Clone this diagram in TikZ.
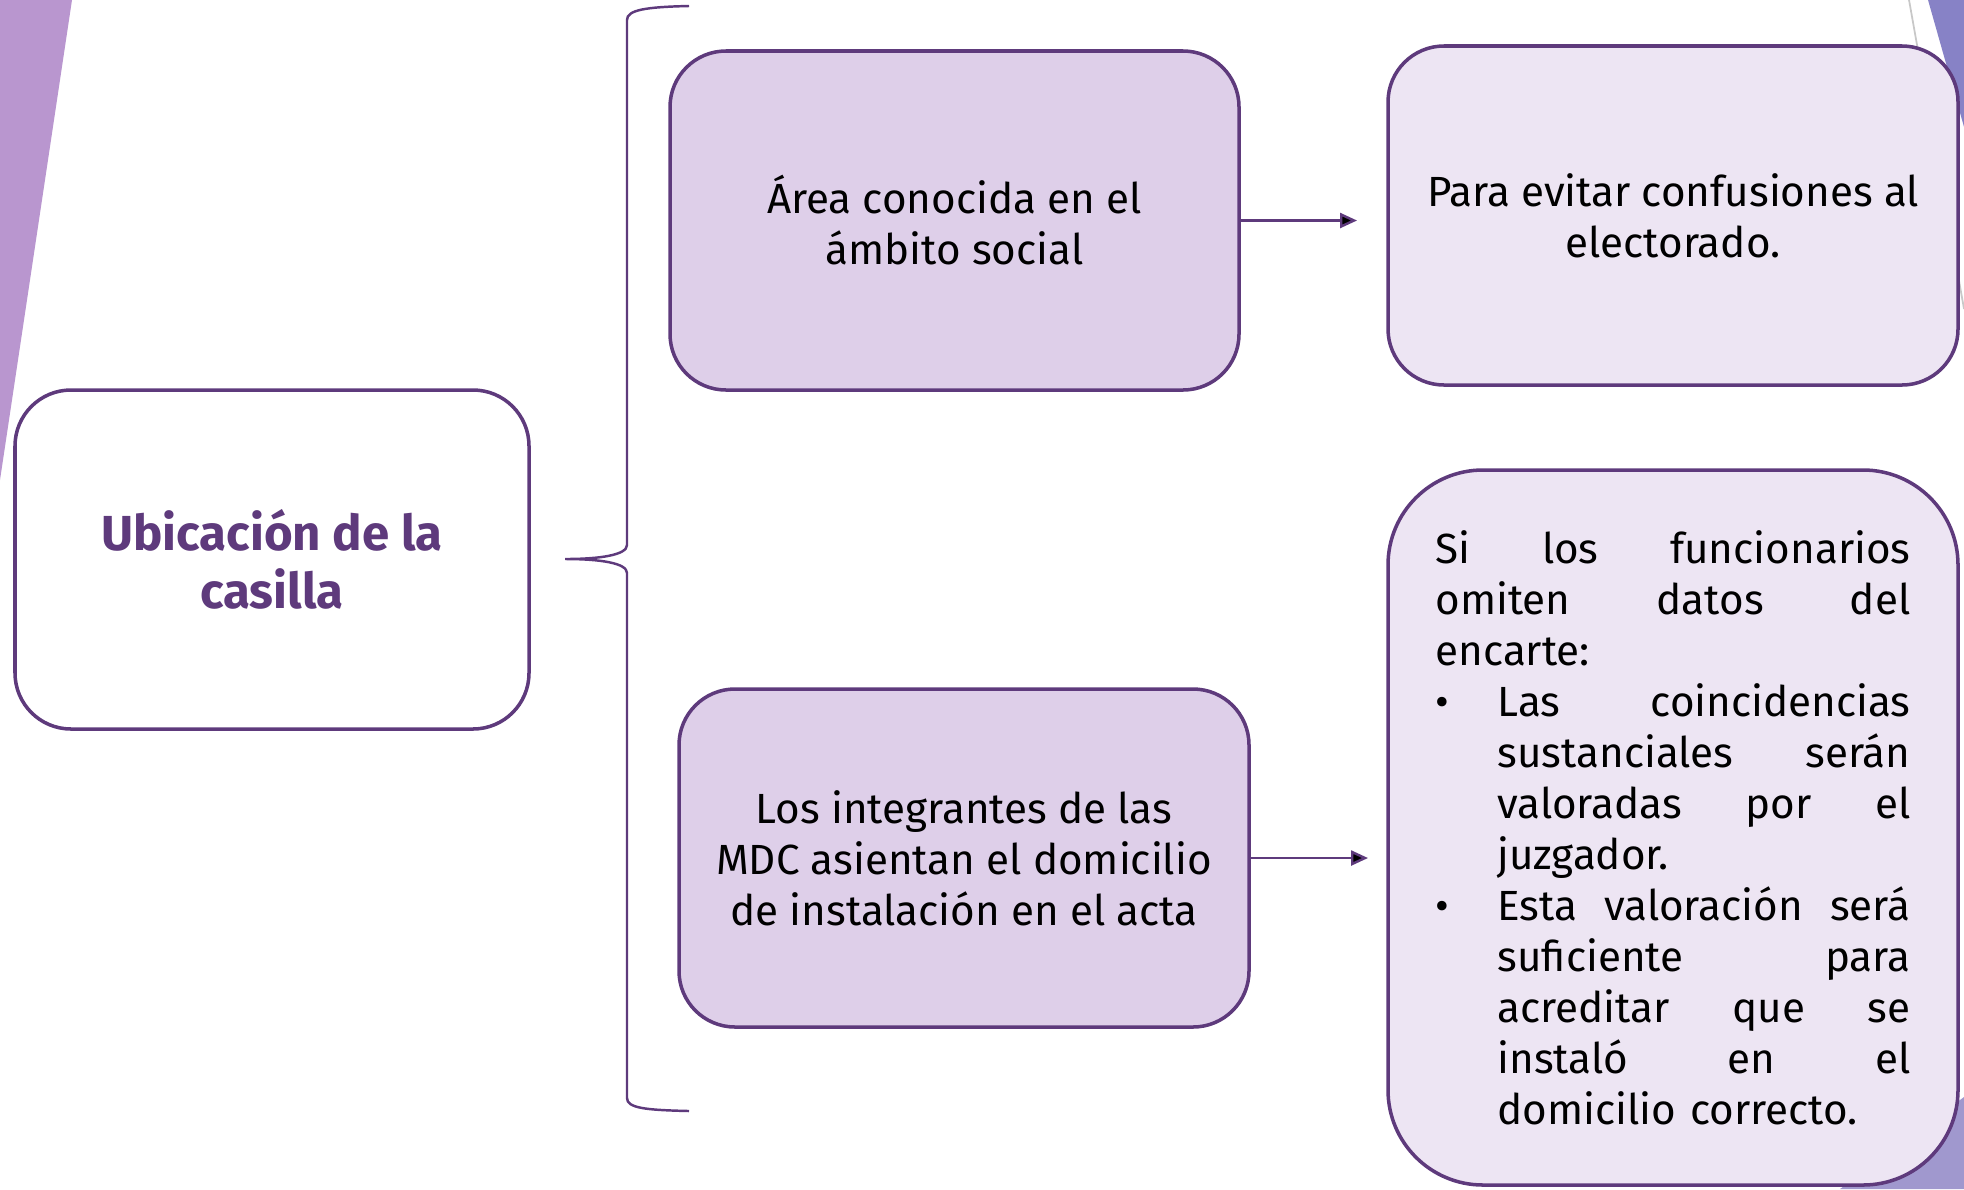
\documentclass[tikz,border=0pt]{standalone}
\usepackage{fontspec}
\setmainfont{Fira Sans}
\usetikzlibrary{arrows.meta}
\definecolor{casillaPurple}{RGB}{94,58,124}
\definecolor{casillaLilac}{RGB}{222,207,233}
\definecolor{casillaPale}{RGB}{237,229,243}
\definecolor{casillaWedge}{RGB}{185,150,207}
\definecolor{casillaBlue}{RGB}{135,130,198}
\definecolor{casillaCorner}{RGB}{160,152,206}
\definecolor{casillaGrey}{RGB}{200,200,200}
\newcommand{\jline}[2]{\makebox[#1][s]{#2}}
\newcommand{\bul}{\makebox[0.62cm][l]{\textbullet}}
\newcommand{\ind}{\hspace*{0.62cm}}

\begin{document}
\begin{tikzpicture}[font=\fontsize{12}{14.5}\selectfont,
		box/.style={draw=casillaPurple, line width=1pt, rounded corners=0.56cm, minimum width=5.7cm, minimum height=3.39cm, align=center},
		link/.style={draw=casillaPurple, line width=0.7pt, -{Triangle[length=0.17cm,width=0.15cm]}}]
		\useasboundingbox (0,0) rectangle (19.64,-11.89);
		
		% Background
		\fill[casillaWedge] (0,0) -- (0.72,0) -- (0,-4.8) -- cycle;
		\draw[casillaGrey, line width=0.5pt] (19.09,0) -- (19.64,-3.09);
		\fill[casillaBlue] (19.28,0) -- (19.64,0) -- (19.64,-1.27) -- cycle;
		\fill[casillaCorner] (19.64,-10.97) -- (19.64,-11.89) -- (18.40,-11.89) -- cycle;
		
		% Ubicacion
		\node (casilla) at (2.72,-5.595) [box, minimum width=5.14cm, text=casillaPurple, font=\fontsize{14}{16.5}\selectfont\bfseries] {Ubicación de la\\casilla};
		
		% Brace
		\draw[casillaPurple, line width=0.7pt] (6.89,-0.06) .. controls (6.45,-0.07) and (6.27,-0.1) .. (6.27,-0.2)
			-- (6.27,-5.45) .. controls (6.27,-5.55) and (6.0,-5.59) .. (5.65,-5.59)
			.. controls (6.0,-5.59) and (6.27,-5.63) .. (6.27,-5.73)
			-- (6.27,-10.98) .. controls (6.27,-11.08) and (6.45,-11.1) .. (6.89,-11.11);
		
		% Middle boxes
		\begin{scope}[every node/.style={box, fill=casillaLilac}]
			\node (area) at (9.545,-2.205) [minimum width=5.69cm] {Área conocida en el\\ámbito social};
			\node (integrantes) at (9.64,-8.58) [minimum height=3.38cm] {Los integrantes de las\\MDC asientan el domicilio\\de instalación en el acta};
		\end{scope}
		
		% Right boxes
		\begin{scope}[every node/.style={box, fill=casillaPale}]
			\node (evitar) at (16.73,-2.155) {Para evitar confusiones al\\electorado.};
			\node (omiten) at (16.73,-8.275) [rounded corners=0.95cm, minimum height=7.15cm, text width=4.75cm, align=left] {%
				\jline{4.75cm}{Si\hfill los\hfill funcionarios}\\
				\jline{4.75cm}{omiten\hfill datos\hfill del}\\
				encarte:\\
				\bul\jline{4.13cm}{Las\hfill coincidencias}\\
				\ind\jline{4.13cm}{sustanciales\hfill serán}\\
				\ind\jline{4.13cm}{valoradas\hfill por\hfill el}\\
				\ind juzgador.\\
				\bul\jline{4.13cm}{Esta\hfill valoración\hfill será}\\
				\ind\jline{4.13cm}{suficiente\hfill para}\\
				\ind\jline{4.13cm}{acreditar\hfill que\hfill se}\\
				\ind\jline{4.13cm}{instaló\hfill en\hfill el}\\
				\ind domicilio correcto.};
		\end{scope}
		
		% Arrows
		\coordinate (areaend) at (13.57,-2.205);
		\coordinate (integrantesend) at (13.68,-8.58);
		\path [link] (area) edge (areaend);
		\path [link] (integrantes) edge (integrantesend);
	\end{tikzpicture}
\end{document}
